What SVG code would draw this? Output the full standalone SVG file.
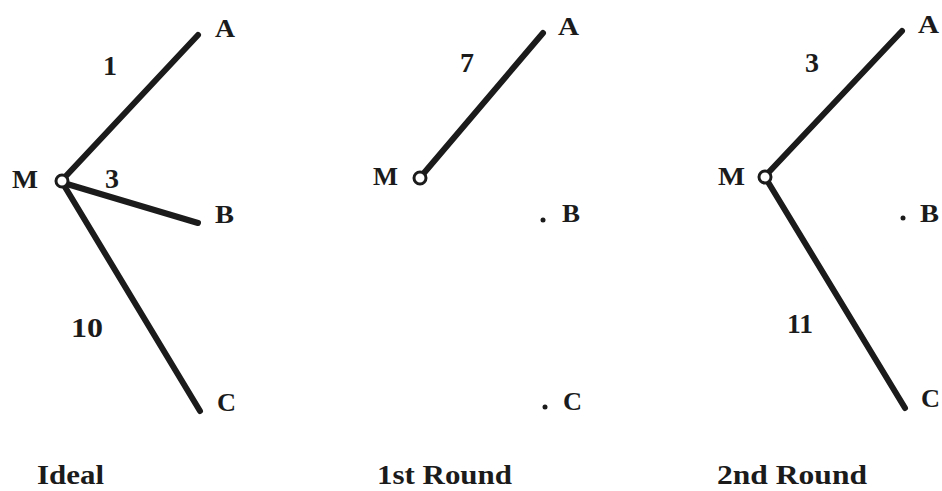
<svg xmlns="http://www.w3.org/2000/svg" width="942" height="491" viewBox="0 0 942 491">
<style>
.t{font-family:"Liberation Serif","Times New Roman",serif;font-weight:bold;fill:#1b1b1b}
.lbl{font-size:26px}
.num{font-size:28px}
.ttl{font-size:28px}
.edge{stroke:#1b1b1b;stroke-width:6;stroke-linecap:round;fill:none}
.hub{fill:#fff;stroke:#1b1b1b;stroke-width:3}
.dot{fill:#1b1b1b}
</style>
<rect width="942" height="491" fill="#fff"/>
<g id="connectors">
<line class="edge" x1="66" y1="176" x2="198" y2="35"/>
<line class="edge" x1="67" y1="184" x2="198" y2="223"/>
<line class="edge" x1="65" y1="187" x2="200" y2="411"/>
<line class="edge" x1="424" y1="173" x2="543" y2="33"/>
<line class="edge" x1="769" y1="172" x2="902" y2="31"/>
<line class="edge" x1="768" y1="182" x2="905" y2="408"/>
</g>
<g id="ideal">
<g id="ideal-M"><circle class="hub" cx="62" cy="181" r="6"/><text class="t lbl" x="12" y="188" textLength="26" lengthAdjust="spacingAndGlyphs">M</text></g>
<g id="ideal-A"><text class="t lbl" x="215" y="37" textLength="20" lengthAdjust="spacingAndGlyphs">A</text></g>
<g id="ideal-B"><text class="t lbl" x="215" y="223" textLength="19" lengthAdjust="spacingAndGlyphs">B</text></g>
<g id="ideal-C"><text class="t lbl" x="217" y="411" textLength="19" lengthAdjust="spacingAndGlyphs">C</text></g>
<text class="t num" x="103" y="75">1</text>
<text class="t num" x="105" y="188" font-size="25">3</text>
<text class="t num" x="71" y="337" font-size="31" textLength="32" lengthAdjust="spacingAndGlyphs">10</text>
<text class="t ttl" x="37" y="484" textLength="67" lengthAdjust="spacingAndGlyphs">Ideal</text>
</g>
<g id="round1">
<g id="r1-M"><circle class="hub" cx="420" cy="178" r="6"/><text class="t lbl" x="373" y="185" textLength="25" lengthAdjust="spacingAndGlyphs">M</text></g>
<g id="r1-A"><text class="t lbl" x="558" y="35" textLength="21" lengthAdjust="spacingAndGlyphs">A</text></g>
<g id="r1-B"><circle class="dot" cx="543" cy="220" r="2.5"/><text class="t lbl" x="562" y="222" textLength="18" lengthAdjust="spacingAndGlyphs">B</text></g>
<g id="r1-C"><circle class="dot" cx="545" cy="407" r="2.5"/><text class="t lbl" x="563" y="410" textLength="19" lengthAdjust="spacingAndGlyphs">C</text></g>
<text class="t num" x="460" y="72">7</text>
<text class="t ttl" x="377" y="484" textLength="135" lengthAdjust="spacingAndGlyphs">1st Round</text>
</g>
<g id="round2">
<g id="r2-M"><circle class="hub" cx="765" cy="177" r="6"/><text class="t lbl" x="718" y="185" textLength="27" lengthAdjust="spacingAndGlyphs">M</text></g>
<g id="r2-A"><text class="t lbl" x="918" y="33" textLength="21" lengthAdjust="spacingAndGlyphs">A</text></g>
<g id="r2-B"><circle class="dot" cx="903" cy="218" r="2.5"/><text class="t lbl" x="920" y="222" textLength="19" lengthAdjust="spacingAndGlyphs">B</text></g>
<g id="r2-C"><text class="t lbl" x="921" y="407" textLength="19" lengthAdjust="spacingAndGlyphs">C</text></g>
<text class="t num" x="805" y="72">3</text>
<text class="t num" x="787" y="333" textLength="26" lengthAdjust="spacingAndGlyphs">11</text>
<text class="t ttl" x="717" y="484" textLength="150" lengthAdjust="spacingAndGlyphs">2nd Round</text>
</g>
</svg>
